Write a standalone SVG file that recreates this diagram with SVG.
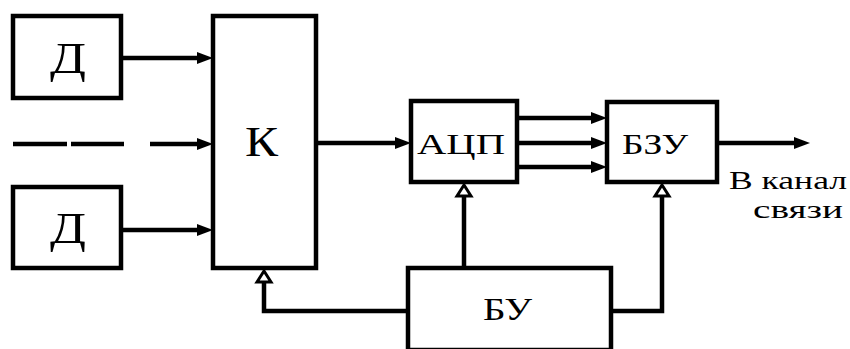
<svg xmlns="http://www.w3.org/2000/svg" width="850" height="349" viewBox="0 0 850 349">
<style>
.box{fill:#fff;stroke:#000;stroke-width:4.5}
.ln{fill:none;stroke:#000;stroke-width:4.5}
.oh{fill:#fff;stroke:#000;stroke-width:3}
text{font-family:"Liberation Serif","DejaVu Serif","Times New Roman",serif;fill:#000}
</style>
<defs>
<path id="ah" d="M-16,-6 L0,0 L-16,6 Z" fill="#000"/>
<path id="oh" class="oh" d="M-7,0 L0,-11 L7,0 Z"/>
</defs>
<g id="connectors">
<line class="ln" x1="121" y1="58" x2="200" y2="58"/>
<use href="#ah" x="213" y="58"/>
<line class="ln" x1="121" y1="230" x2="200" y2="230"/>
<use href="#ah" x="213" y="230"/>
<path class="ln" d="M13,144 H67 M71,144 H124 M150,144 H200"/>
<use href="#ah" x="213" y="144"/>
<line class="ln" x1="316" y1="143" x2="398" y2="143"/>
<use href="#ah" x="411" y="143"/>
<line class="ln" x1="517" y1="118" x2="594" y2="118"/>
<use href="#ah" x="607" y="118"/>
<line class="ln" x1="517" y1="143" x2="594" y2="143"/>
<use href="#ah" x="607" y="143"/>
<line class="ln" x1="517" y1="167" x2="594" y2="167"/>
<use href="#ah" x="607" y="167"/>
<line class="ln" x1="717" y1="143" x2="796" y2="143"/>
<use href="#ah" x="810" y="143"/>
<line class="ln" x1="464" y1="268" x2="464" y2="195"/>
<use href="#oh" x="464" y="196"/>
<polyline class="ln" points="611,311 662,311 662,195"/>
<use href="#oh" x="662" y="196"/>
<polyline class="ln" points="408,311 264,311 264,281"/>
<use href="#oh" x="264" y="282"/>
</g>
<g id="d1"><rect class="box" x="13" y="16" width="108" height="82"/><text x="50" y="73" font-size="44" textLength="36" lengthAdjust="spacingAndGlyphs">Д</text></g>
<g id="d2"><rect class="box" x="13" y="187" width="108" height="81"/><text x="50" y="243" font-size="44" textLength="36" lengthAdjust="spacingAndGlyphs">Д</text></g>
<g id="k"><rect class="box" x="213" y="16" width="103" height="252"/><text x="245" y="156" font-size="42" textLength="33" lengthAdjust="spacingAndGlyphs">К</text></g>
<g id="adc"><rect class="box" x="411" y="101" width="106" height="81"/><text x="417" y="154" font-size="30" textLength="88" lengthAdjust="spacingAndGlyphs">АЦП</text></g>
<g id="bzu"><rect class="box" x="607" y="102" width="110" height="80"/><text x="622" y="154" font-size="30" textLength="66" lengthAdjust="spacingAndGlyphs">БЗУ</text></g>
<g id="bu"><rect class="box" x="408" y="268" width="203" height="82"/><text x="483" y="320" font-size="32" textLength="49" lengthAdjust="spacingAndGlyphs">БУ</text></g>
<g id="out-label"><text x="729" y="189" font-size="25" textLength="118" lengthAdjust="spacingAndGlyphs">В канал</text><text x="753" y="218" font-size="25" textLength="90" lengthAdjust="spacingAndGlyphs">связи</text></g>
</svg>
